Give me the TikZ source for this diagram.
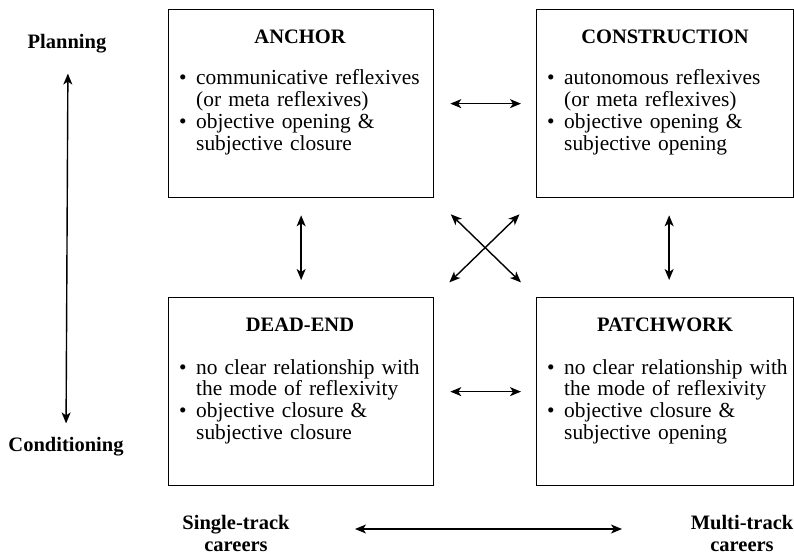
\documentclass[tikz,border=0pt]{standalone}
\usepackage{fontspec}
\setmainfont{Liberation Serif}
\usetikzlibrary{arrows.meta}
\newcommand{\bitem}[1]{\par\hangindent=17pt\hangafter=1\noindent\makebox[17pt][l]{\textbullet}#1}
\begin{document}
\begin{tikzpicture}[x=1pt,y=-1pt,
  box/.style={draw, line width=1.3pt, minimum height=188pt, inner sep=0, anchor=north west},
  ttl/.style={font=\fontsize{20.5}{22}\selectfont\bfseries, inner sep=0},
  body/.style={font=\fontsize{21.4}{21.8}\selectfont, text width=250pt, inner sep=0, anchor=north west},
  lab/.style={font=\fontsize{20.5}{22}\selectfont\bfseries, align=center, inner sep=0},
  dbl/.style={{Stealth[length=11pt,width=9pt,inset=3pt]}-{Stealth[length=11pt,width=9pt,inset=3pt]}, line width=1.4pt}]
\path[use as bounding box] (0,0) rectangle (794,556);

% boxes
\node[box, minimum width=265pt] (anc) at (168,9) {};
\node[box, minimum width=257pt] (con) at (536,9) {};
\node[box, minimum width=265pt] (dead) at (168,297) {};
\node[box, minimum width=257pt] (pat) at (536,297) {};

% titles
\node[ttl] (ancT) at (300,37) {ANCHOR};
\node[ttl] (conT) at (665,37) {CONSTRUCTION};
\node[ttl] (deadT) at (300,325) {DEAD-END};
\node[ttl] (patT) at (665,325) {PATCHWORK};

% bodies
\node[body] (ancB) at (179,63) {\raggedright
  \bitem{communicative reflexives\newline(or meta reflexives)}
  \bitem{objective opening \&\newline subjective closure}\par};
\node[body] (conB) at (547,63) {\raggedright
  \bitem{autonomous reflexives\newline(or meta reflexives)}
  \bitem{objective opening \&\newline subjective opening}\par};
\node[body] (deadB) at (179,352) {\raggedright
  \bitem{no clear relationship with\newline the mode of reflexivity}
  \bitem{objective closure \&\newline subjective closure}\par};
\node[body] (patB) at (547,352) {\raggedright
  \bitem{no clear relationship with\newline the mode of reflexivity}
  \bitem{objective closure \&\newline subjective opening}\par};

% axis labels
\node[lab] (plan) at (67,44) {Planning};
\node[lab] (cond) at (66,447) {Conditioning};
\node[lab] (single) at (236,533) {Single-track\\careers};
\node[lab] (multi) at (742,533) {Multi-track\\careers};

% connectors
\draw[dbl, shorten <=16pt, shorten >=15pt] (anc.east) -- (con.west);
\draw[dbl, shorten <=16pt, shorten >=15pt] (dead.east) -- (pat.west);
\draw[dbl, shorten <=17pt, shorten >=17pt] (anc.south) -- (dead.north);
\draw[dbl, shorten <=17pt, shorten >=17pt] ([xshift=4pt]con.south) -- ([xshift=4pt]pat.north);
\draw[dbl, shorten <=23pt, shorten >=21pt] (anc.south east) -- (pat.north west);
\draw[dbl, shorten <=23pt, shorten >=21pt] (con.south west) -- (dead.north east);
\draw[dbl, shorten <=20pt, shorten >=14pt] ([xshift=1pt]plan.south) -- (cond.north);
\draw[dbl, shorten <=119pt, shorten >=120pt] ([yshift=4pt]single.center) -- ([yshift=4pt]multi.center);
\end{tikzpicture}
\end{document}
